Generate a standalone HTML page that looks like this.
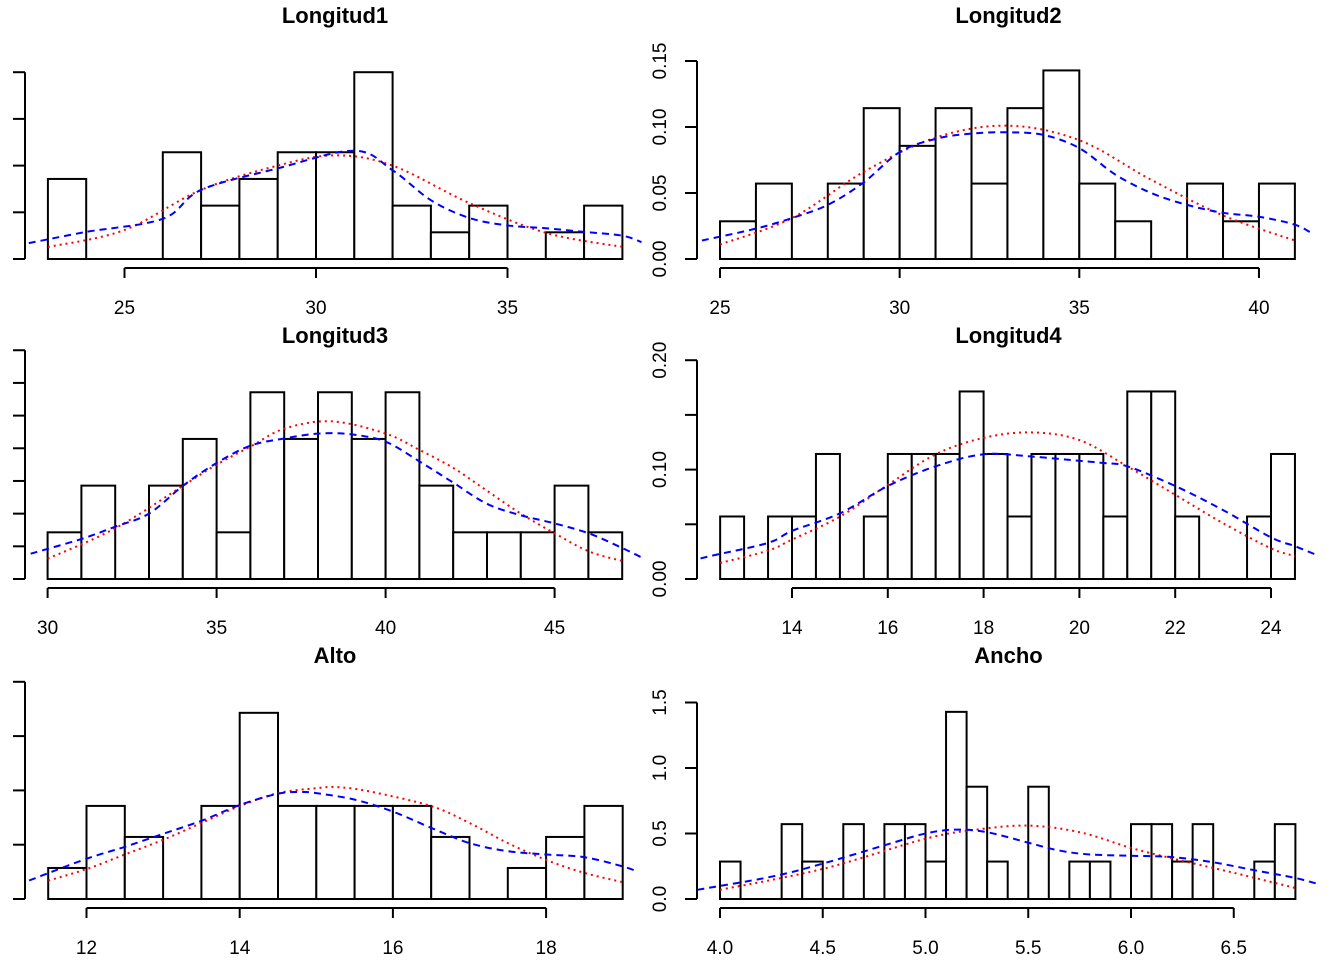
<!DOCTYPE html>
<html><head><meta charset="utf-8"><style>
html,body{margin:0;padding:0;background:#fff}
svg{display:block;font-family:"Liberation Sans",Arial,sans-serif}
</style></head><body>
<svg id="chart" width="1344" height="960" viewBox="0 0 1344 960" xmlns="http://www.w3.org/2000/svg"></svg>
<script>
// ---- data ----
const long1Start = 23, long1Width = 1;
const long1Counts = [3,0,0,4,2,3,4,4,7,2,1,2,0,1,2];
const long1NormX = [23,25,27,29,30.5,32,34,36,38];
const long1NormY = [0.0128,0.031,0.074,0.1,0.111,0.1,0.06,0.028,0.013];
const long1KdeX = [22.5,24,26,27,29,31,32,33,34,35,36,37,38,38.5];
const long1KdeY = [0.017,0.029,0.043,0.074,0.097,0.116,0.095,0.063,0.044,0.036,0.033,0.029,0.025,0.018];

const long2Start = 25, long2Width = 1;
const long2Counts = [1,2,0,2,4,3,4,2,4,5,2,1,0,2,1,2];
const long2NormX = [25,27,29,31,33,35,37,39,41];
const long2NormY = [0.011,0.031,0.066,0.092,0.101,0.09,0.06,0.033,0.014];
const long2KdeX = [24.5,26,27,28,29,30,31,32,33,34,35,36,37,38,39,40,41,41.5];
const long2KdeY = [0.014,0.023,0.031,0.041,0.058,0.081,0.091,0.095,0.096,0.094,0.084,0.064,0.05,0.041,0.035,0.032,0.026,0.019];

const long3Start = 30, long3Width = 1;
const long3Counts = [1,2,0,2,3,1,4,3,4,3,4,2,1,1,1,2,1];
const long3NormX = [30,32,34,35,36,37,38.4,40,41,42,43,44,45,46,47];
const long3NormY = [0.0124,0.031,0.057,0.07,0.081,0.092,0.0965,0.089,0.079,0.068,0.054,0.04,0.028,0.017,0.011];
const long3KdeX = [29.5,31,32,33,34,35,36,37,38,39,40,41,42,43,44,45,46,47,47.6];
const long3KdeY = [0.0155,0.0245,0.032,0.04,0.057,0.071,0.0816,0.086,0.089,0.0885,0.084,0.072,0.059,0.046,0.039,0.034,0.028,0.019,0.0129];

const long4Start = 12.5, long4Width = 0.5;
const long4Counts = [1,0,1,1,2,0,1,2,2,2,3,2,1,2,2,2,1,3,3,1,0,0,1,2];
const long4NormX = [12.5,13.5,14,15,16,17,18,19,20,21,22,23,24,24.5];
const long4NormY = [0.0146,0.026,0.036,0.057,0.086,0.114,0.129,0.134,0.127,0.103,0.077,0.051,0.028,0.021];
const long4KdeX = [11.85,12.3,13.5,14,15,16,17,18,19,20,20.5,21,22,23,24,24.5,24.95];
const long4KdeY = [0.016,0.021,0.033,0.044,0.06,0.085,0.103,0.114,0.112,0.108,0.106,0.103,0.085,0.063,0.038,0.03,0.022];

const altoStart = 11.5, altoWidth = 0.5;
const altoCounts = [1,3,2,0,3,6,3,3,3,3,2,0,1,2,3];
const altoNormX = [11.5,12,12.5,13,13.5,14,14.5,15,15.27,15.7,16.5,17,17.5,18,18.5,19];
const altoNormY = [0.0338,0.055,0.082,0.109,0.14,0.171,0.195,0.204,0.206,0.198,0.171,0.14,0.103,0.072,0.048,0.031];
const altoKdeX = [11.25,12,12.5,13,13.5,14,14.5,14.8,15,15.5,16,16.5,17,17.5,18,18.5,19,19.2];
const altoKdeY = [0.034,0.074,0.096,0.12,0.144,0.173,0.194,0.197,0.195,0.183,0.161,0.131,0.103,0.088,0.082,0.077,0.06,0.05];

const anchoStart = 4.0, anchoWidth = 0.1;
const anchoCounts = [1,0,0,2,1,0,2,0,2,2,1,5,3,1,0,3,0,1,1,0,2,2,1,2,0,0,1,2];
const anchoNormX = [4.0,4.5,5.0,5.25,5.5,5.75,6.0,6.2,6.5,6.8];
const anchoNormY = [0.07,0.23,0.46,0.53,0.56,0.51,0.39,0.31,0.2,0.084];
const anchoKdeX = [3.89,4.25,4.5,4.8,5.0,5.15,5.3,5.5,5.65,5.8,6.0,6.2,6.4,6.6,6.8,6.92];
const anchoKdeY = [0.07,0.17,0.27,0.41,0.5,0.53,0.51,0.43,0.37,0.34,0.33,0.32,0.28,0.22,0.16,0.11];

const long1XTicks = [25,30,35], long2XTicks = [25,30,35,40], long3XTicks = [30,35,40,45];
const long4XTicks = [14,16,18,20,22,24], altoXTicks = [12,14,16,18], anchoXTicks = [4.0,4.5,5.0,5.5,6.0,6.5];
const long1YTicks = [0,0.05,0.1,0.15,0.2], long2YTicks = [0,0.05,0.1,0.15];
const long3YTicks = [0,0.02,0.04,0.06,0.08,0.1,0.12,0.14], long4YTicks = [0,0.05,0.1,0.15,0.2];
const altoYTicks = [0,0.1,0.2,0.3,0.4], anchoYTicks = [0,0.5,1.0,1.5];

// ---- layout ----
const NS = "http://www.w3.org/2000/svg";
const svg = document.getElementById('chart');
function mk(tag, attrs, parent){const e=document.createElementNS(NS,tag);for(const k in attrs)e.setAttribute(k,attrs[k]);(parent||svg).appendChild(e);return e;}

const panels = [
 {key:'longitud1',title:'Longitud1',start:long1Start,w:long1Width,counts:long1Counts,nx:long1NormX,ny:long1NormY,kx:long1KdeX,ky:long1KdeY,xt:long1XTicks,yt:long1YTicks,ylab:null,dec:0,
  ov:30,ox:316,sx:38.3,base:259,sy:934,ax:25,L:25,R:645,row:0},
 {key:'longitud2',title:'Longitud2',start:long2Start,w:long2Width,counts:long2Counts,nx:long2NormX,ny:long2NormY,kx:long2KdeX,ky:long2KdeY,xt:long2XTicks,yt:long2YTicks,ylab:[0,0.05,0.1,0.15],ydec:2,dec:0,
  ov:25,ox:720,sx:35.93,base:259,sy:1320,ax:697,L:697,R:1320,row:0},
 {key:'longitud3',title:'Longitud3',start:long3Start,w:long3Width,counts:long3Counts,nx:long3NormX,ny:long3NormY,kx:long3KdeX,ky:long3KdeY,xt:long3XTicks,yt:long3YTicks,ylab:null,dec:0,
  ov:30,ox:47.6,sx:33.8,base:579,sy:1634,ax:25,L:25,R:645,row:1},
 {key:'longitud4',title:'Longitud4',start:long4Start,w:long4Width,counts:long4Counts,nx:long4NormX,ny:long4NormY,kx:long4KdeX,ky:long4KdeY,xt:long4XTicks,yt:long4YTicks,ylab:[0,0.1,0.2],ydec:2,dec:0,
  ov:14,ox:792,sx:47.9,base:579,sy:1094,ax:697,L:697,R:1320,row:1},
 {key:'alto',title:'Alto',start:altoStart,w:altoWidth,counts:altoCounts,nx:altoNormX,ny:altoNormY,kx:altoKdeX,ky:altoKdeY,xt:altoXTicks,yt:altoYTicks,ylab:null,dec:0,
  ov:12,ox:86.5,sx:76.6,base:899,sy:543,ax:25,L:25,R:645,row:2},
 {key:'ancho',title:'Ancho',start:anchoStart,w:anchoWidth,counts:anchoCounts,nx:anchoNormX,ny:anchoNormY,kx:anchoKdeX,ky:anchoKdeY,xt:anchoXTicks,yt:anchoYTicks,ylab:[0,0.5,1.0,1.5],ydec:1,dec:1,
  ov:4,ox:720,sx:205.5,base:899,sy:131,ax:697,L:697,R:1320,row:2}
];

// smooth path through points (Catmull-Rom -> Bezier)
function smooth(pts){
  let d = 'M'+pts[0][0].toFixed(1)+','+pts[0][1].toFixed(1);
  for(let i=0;i<pts.length-1;i++){
    const p0=pts[i-1]||pts[i], p1=pts[i], p2=pts[i+1], p3=pts[i+2]||p2;
    const c1=[p1[0]+(p2[0]-p0[0])/6, p1[1]+(p2[1]-p0[1])/6];
    const c2=[p2[0]-(p3[0]-p1[0])/6, p2[1]-(p3[1]-p1[1])/6];
    d+=' C'+c1[0].toFixed(1)+','+c1[1].toFixed(1)+' '+c2[0].toFixed(1)+','+c2[1].toFixed(1)+' '+p2[0].toFixed(1)+','+p2[1].toFixed(1);
  }
  return d;
}

panels.forEach((p,pi)=>{
  const g = mk('g',{});
  
  
  const X = v => p.ox + (v - p.ov)*p.sx;
  const Y = d => p.base - d*p.sy;
  const rowOff = p.row*320;
  const n = p.counts.reduce((a,b)=>a+b,0);
  const t = mk('text',{x:(p.L+p.R)/2,y:23+rowOff,'text-anchor':'middle','font-size':'22','font-weight':'bold',fill:'#000'},g);
  t.textContent = p.title;
  
  
  // baseline under all bins
  mk('line',{x1:X(p.start),x2:X(p.start+p.counts.length*p.w),y1:p.base,y2:p.base,stroke:'#000','stroke-width':2},g);
  p.counts.forEach((c,i)=>{
    const x0 = X(p.start + i*p.w), x1 = X(p.start + (i+1)*p.w);
    const d = c/(n*p.w);
    if(c===0) return;
    const r = mk('rect',{x:x0,y:Y(d),width:x1-x0,height:p.base-Y(d),fill:'#fff',stroke:'#000','stroke-width':2},g);
    
    
  });
  const cp = mk('clipPath',{id:'clip'+pi},g);
  mk('rect',{x:p.L,y:rowOff,width:p.R-p.L,height:300},cp);
  const pathOf=(xs,ys)=>smooth(xs.map((x,i)=>[X(x),Y(ys[i])]));
  const nl = mk('path',{d:pathOf(p.nx,p.ny),fill:'none',stroke:'#ff0000','stroke-width':2,'stroke-dasharray':'2 4','clip-path':'url(#clip'+pi+')'},g);
  
  
  const kl = mk('path',{d:pathOf(p.kx,p.ky),fill:'none',stroke:'#0000ff','stroke-width':2,'stroke-dasharray':'7 5','clip-path':'url(#clip'+pi+')'},g);
  
  
  const xa = mk('g',{},g);
  
  
  const ay = 268 + rowOff;
  mk('line',{x1:X(p.xt[0]),x2:X(p.xt[p.xt.length-1]),y1:ay,y2:ay,stroke:'#000','stroke-width':2},xa);
  p.xt.forEach(v=>{
    mk('line',{x1:X(v),x2:X(v),y1:ay,y2:ay+10,stroke:'#000','stroke-width':2},xa);
    const l = mk('text',{x:X(v),y:ay+46,'text-anchor':'middle','font-size':'19',fill:'#000'},xa);
    l.textContent = v.toFixed(p.dec);
  });
  const ya = mk('g',{},g);
  
  
  mk('line',{x1:p.ax,x2:p.ax,y1:Y(p.yt[0]),y2:Y(p.yt[p.yt.length-1]),stroke:'#000','stroke-width':2},ya);
  p.yt.forEach(v=>{
    mk('line',{x1:p.ax-12,x2:p.ax,y1:Y(v),y2:Y(v),stroke:'#000','stroke-width':2},ya);
  });
  if(p.ylab){
    p.ylab.forEach(v=>{
      const lx = p.ax-31, ly = Y(v);
      const l = mk('text',{x:lx,y:ly,'text-anchor':'middle','font-size':'19',fill:'#000',transform:`rotate(-90 ${lx} ${ly})`},ya);
      l.textContent = v.toFixed(p.ydec);
    });
  }
});
</script>
</body></html>
